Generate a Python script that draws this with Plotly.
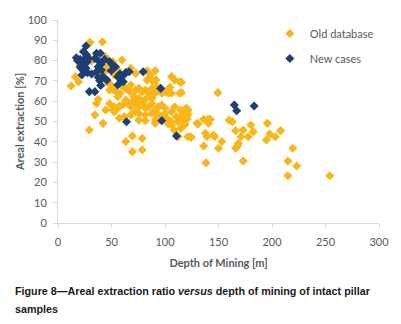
import plotly.graph_objects as go

# Old database: depth of mining [m], areal extraction [%]
old_depth = [12.2, 19.2, 29.3, 29.9, 41.5, 34.5, 42.1, 44.5, 36.0, 37.5, 44.5, 31.4, 59.8, 51.2, 20.7,
             23.8, 46.6, 44.5, 55.8, 68.0, 64.9, 83.2, 90.9, 86.3, 16.2, 39.0, 52.7, 60.4, 72.6, 106.1,
             109.1, 113.7, 83.2, 88.4, 91.5, 45.1, 49.7, 48.2, 51.2, 54.3, 55.8, 57.9, 62.8, 58.8, 68.0,
             67.1, 72.6, 75.6, 78.7, 81.7, 87.8, 92.4, 95.4, 100.0, 104.6, 106.1, 113.7, 84.8, 90.9, 97.0,
             103.0, 71.0, 75.6, 81.7, 87.8, 63.4, 69.5, 48.2, 52.7, 55.8, 52.7, 57.3, 51.2, 60.4, 64.9,
             68.0, 71.0, 74.1, 75.6, 78.7, 81.7, 84.8, 87.8, 90.9, 93.9, 97.0, 100.0, 72.0, 75.6, 81.7,
             87.8, 93.9, 100.0, 106.1, 109.1, 57.3, 61.9, 68.0, 75.6, 81.7, 90.9, 97.0, 101.5, 106.1, 110.7,
             112.2, 115.2, 118.3, 119.8, 116.8, 90.9, 103.0, 63.4, 69.5, 78.7, 106.1, 108.5, 112.2, 121.3, 124.4,
             118.3, 114.6, 69.5, 78.7, 129.9, 115.4, 115.4, 149.4, 114.5, 121.6, 121.6, 114.5, 120.7, 118.5, 136.1,
             140.1, 142.3, 140.7, 130.9, 137.7, 139.2, 145.4, 146.3, 153.1, 123.8, 136.1, 138.3, 150.0, 159.9, 163.0,
             166.0, 173.1, 180.2, 182.4, 171.0, 177.8, 168.5, 167.9, 166.0, 173.1, 195.7, 197.8, 194.8, 203.1, 208.0,
             219.4, 214.8, 223.1, 214.8, 254.0]
old_extr = [67.5, 69.6, 45.8, 89.0, 89.2, 53.2, 49.1, 55.7, 58.9, 60.9, 81.9, 79.8, 80.3, 79.5, 77.8,
            75.4, 77.0, 75.0, 75.4, 76.2, 74.5, 75.0, 75.0, 72.9, 72.1, 72.1, 72.9, 71.8, 73.7, 72.1,
            70.4, 69.6, 70.4, 70.1, 70.4, 69.6, 68.0, 65.5, 65.8, 64.7, 62.2, 63.9, 66.3, 68.0, 68.0,
            64.7, 65.5, 66.3, 64.7, 65.5, 66.3, 67.2, 65.5, 64.7, 66.8, 63.9, 63.9, 63.9, 63.9, 63.9,
            63.9, 62.2, 61.4, 60.9, 61.4, 60.6, 59.8, 58.9, 57.3, 56.5, 54.8, 57.6, 55.7, 58.1, 58.9,
            57.3, 58.9, 59.8, 57.3, 58.9, 56.5, 57.3, 58.9, 55.7, 57.3, 58.1, 56.5, 54.8, 54.0, 53.2,
            54.0, 53.2, 54.0, 54.8, 57.3, 51.6, 52.4, 53.2, 50.7, 50.4, 50.7, 52.4, 51.6, 49.9, 52.4,
            49.9, 51.6, 50.7, 56.5, 54.0, 49.1, 48.8, 40.1, 42.9, 41.7, 48.3, 45.8, 42.5, 42.5, 42.2,
            48.3, 46.6, 35.1, 36.0, 49.1, 69.3, 64.2, 64.2, 55.7, 55.7, 53.5, 51.6, 51.2, 48.8, 51.1,
            51.1, 51.1, 49.1, 48.8, 44.2, 42.5, 43.3, 42.5, 40.1, 42.5, 37.9, 29.7, 36.8, 50.7, 49.9,
            45.5, 45.8, 48.3, 45.0, 42.5, 42.5, 39.2, 37.9, 36.8, 30.5, 49.1, 43.8, 40.9, 42.5, 45.5,
            36.8, 30.5, 28.1, 23.3, 23.3]

# New cases
new_depth = [17.1, 18.3, 20.7, 22.3, 23.8, 25.3, 27.4, 26.2, 23.8, 26.8, 28.4, 20.7, 23.2, 26.2, 27.4,
             22.3, 31.4, 36.0, 39.6, 34.5, 37.5, 40.5, 43.6, 37.5, 40.5, 36.0, 37.5, 39.0, 42.1, 39.9,
             45.7, 29.3, 34.5, 48.2, 51.2, 53.7, 49.7, 55.8, 57.9, 61.0, 58.8, 63.4, 66.5, 61.0, 55.8,
             64.0, 79.6, 96.0, 97.0, 110.7, 164.8, 167.0, 183.3]
new_extr = [81.4, 80.0, 80.6, 79.0, 80.3, 78.3, 79.5, 87.2, 84.4, 82.8, 81.1, 76.8, 75.4, 76.2, 74.1,
            72.9, 73.4, 83.6, 83.6, 81.1, 80.0, 78.3, 80.6, 77.0, 75.4, 74.5, 71.8, 70.1, 72.1, 67.7,
            70.4, 64.7, 64.7, 79.5, 77.8, 77.0, 75.0, 72.1, 73.4, 72.9, 70.4, 74.1, 74.5, 69.6, 68.0,
            49.9, 74.5, 66.3, 50.4, 42.9, 58.1, 55.3, 57.6]

x_ticks = [0, 50, 100, 150, 200, 250, 300]
y_ticks = [0, 10, 20, 30, 40, 50, 60, 70, 80, 90, 100]

caption_line1 = "Figure 8—Areal extraction ratio <i>versus</i> depth of mining of intact pillar"
caption_line2 = "samples"

GOLD = "#F8B61A"
NAVY = "#1D3F73"
GRAY = "#595959"
AXIS = "#D9D9D9"
FONT = "Lato, 'Liberation Sans', sans-serif"
CAP_FONT = dict(family="'Liberation Sans', Arial, sans-serif", size=10.75, color="#1a1a1a")

fig = go.Figure()
fig.add_trace(go.Scatter(x=old_depth, y=old_extr, mode="markers", name="Old database",
                         legendgroup="a",
                         marker=dict(symbol="diamond", size=7, color=GOLD, line=dict(width=0))))
fig.add_trace(go.Scatter(x=new_depth, y=new_extr, mode="markers", name="New cases",
                         legendgroup="b",
                         marker=dict(symbol="diamond", size=7, color=NAVY, line=dict(width=0))))

fig.update_layout(
    width=401, height=324,
    margin=dict(l=58, r=20, t=20, b=101),
    paper_bgcolor="white", plot_bgcolor="white",
    font=dict(family=FONT, size=11, color=GRAY),
    showlegend=True,
    legend=dict(x=0.66, y=1.005, xanchor="left", yanchor="top",
                bgcolor="rgba(0,0,0,0)", font=dict(size=11, color=GRAY),
                tracegroupgap=6, traceorder="grouped"),
    xaxis=dict(range=[0, 300], tickvals=x_ticks, showgrid=False, zeroline=False,
               showline=True, linecolor=AXIS, linewidth=1, ticks="outside", ticklen=4,
               tickcolor=AXIS, ticklabelstandoff=5,
               title=dict(text="<b>Depth of Mining [m]</b>", standoff=12,
                          font=dict(size=11, color=GRAY))),
    yaxis=dict(range=[0, 100], tickvals=y_ticks, showgrid=False, zeroline=False,
               showline=True, linecolor=AXIS, linewidth=1, ticks="outside", ticklen=4,
               tickcolor=AXIS, ticklabelstandoff=4,
               title=dict(text="<b>Areal extraction [%]</b>", standoff=0,
                          font=dict(size=11, color=GRAY))),
)

fig.add_annotation(xref="paper", yref="paper", x=-0.139, y=-0.335, xanchor="left", yanchor="middle",
                   align="left", showarrow=False, text="<b>" + caption_line1 + "</b>", font=CAP_FONT)
fig.add_annotation(xref="paper", yref="paper", x=-0.139, y=-0.424, xanchor="left", yanchor="middle",
                   align="left", showarrow=False, text="<b>" + caption_line2 + "</b>", font=CAP_FONT)

fig.write_html("out.html", config={"displayModeBar": False},
               post_script="document.body.style.margin='0';")
